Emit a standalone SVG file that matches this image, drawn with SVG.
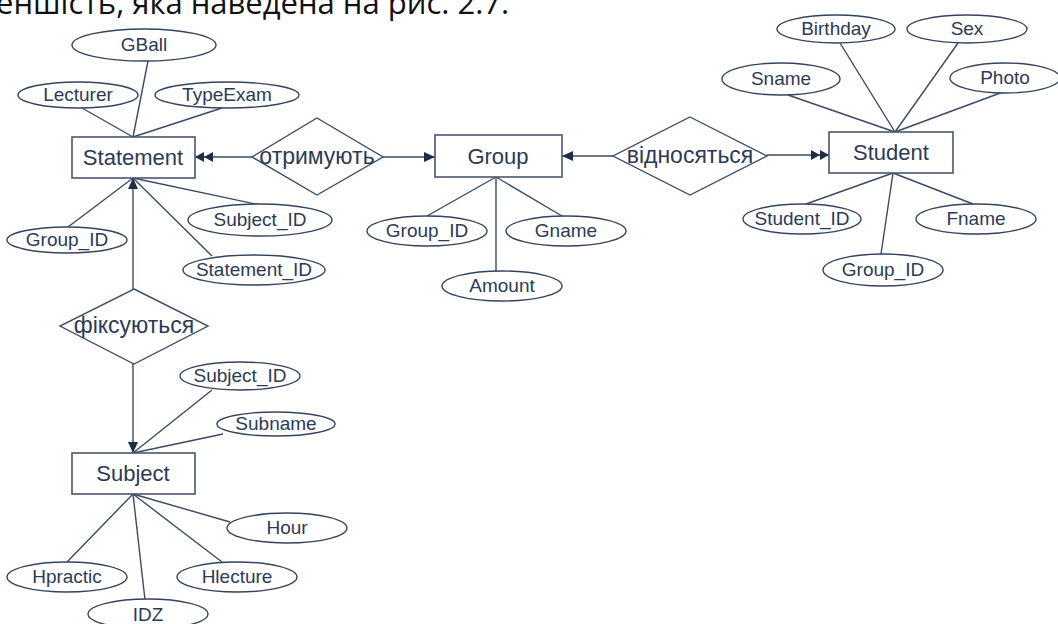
<svg xmlns="http://www.w3.org/2000/svg" width="1058" height="624" viewBox="0 0 1058 624">
  <style>
    .ent rect { fill: #ffffff; stroke: #4a5670; stroke-width: 1.6; }
    .attr ellipse { fill: #ffffff; stroke: #34435f; stroke-width: 1.4; }
    .rel polygon { fill: #ffffff; stroke: #3e4b66; stroke-width: 1.4; }
    text { font-family: "Liberation Sans", Arial, sans-serif; fill: #2c3a55; text-anchor: middle; }
    .ent text { font-size: 22px; }
    .attr text { font-size: 19px; }
    .rel text { font-size: 23px; }
    .conn line { stroke: #3b4965; stroke-width: 1.4; fill: none; }
    .caption { font-family: "Open Sans", "Noto Sans", sans-serif; font-size: 31px; fill: #111111; text-anchor: start; }
  </style>
  <defs>
    <marker id="one" markerUnits="userSpaceOnUse" viewBox="0 0 11 10" refX="11" refY="5" markerWidth="11" markerHeight="10" orient="auto">
      <path d="M0,0 L11,5 L0,10 Z" fill="#1f2c48"/>
    </marker>
    <marker id="two" markerUnits="userSpaceOnUse" viewBox="0 0 18 10" refX="18" refY="5" markerWidth="18" markerHeight="10" orient="auto">
      <path d="M0,0 L9,5 L0,10 Z M9,0 L18,5 L9,10 Z" fill="#1f2c48"/>
    </marker>
  </defs>

  <rect width="1058" height="624" fill="#ffffff"/>

  <!-- tail of the preceding paragraph -->
  <text class="caption" x="-4" y="14">еншість, яка наведена на рис. 2.7.</text>

  <!-- connectors -->
  <g id="connectors" class="conn">
    <!-- Statement attributes -->
    <line x1="148" y1="61" x2="133" y2="137"/>
    <line x1="82" y1="108" x2="133" y2="137"/>
    <line x1="222" y1="108" x2="133" y2="137"/>
    <line x1="68" y1="227" x2="133" y2="178"/>
    <line x1="260" y1="205" x2="133" y2="178"/>
    <line x1="212" y1="256" x2="133" y2="178"/>
    <!-- relationships -->
    <line x1="252" y1="157" x2="195" y2="157" marker-end="url(#two)"/>
    <line x1="383" y1="157" x2="435" y2="157" marker-end="url(#one)"/>
    <line x1="613" y1="156" x2="562" y2="156" marker-end="url(#one)"/>
    <line x1="767" y1="155" x2="829" y2="155" marker-end="url(#two)"/>
    <line x1="133" y1="289" x2="133" y2="178" marker-end="url(#one)"/>
    <line x1="133" y1="364" x2="133" y2="453" marker-end="url(#one)"/>
    <!-- Group attributes -->
    <line x1="496" y1="177" x2="427" y2="216"/>
    <line x1="496" y1="177" x2="562" y2="216"/>
    <line x1="496" y1="177" x2="496" y2="271"/>
    <!-- Student attributes -->
    <line x1="788" y1="95" x2="895" y2="132"/>
    <line x1="840" y1="43" x2="895" y2="132"/>
    <line x1="958" y1="43" x2="895" y2="132"/>
    <line x1="1003" y1="92" x2="895" y2="132"/>
    <line x1="893" y1="173" x2="806" y2="204"/>
    <line x1="893" y1="173" x2="973" y2="204"/>
    <line x1="893" y1="173" x2="881" y2="254"/>
    <!-- Subject attributes -->
    <line x1="212" y1="390" x2="133" y2="453"/>
    <line x1="223" y1="434" x2="133" y2="453"/>
    <line x1="133" y1="494" x2="230" y2="522"/>
    <line x1="133" y1="494" x2="67" y2="562"/>
    <line x1="133" y1="494" x2="222" y2="562"/>
    <line x1="133" y1="494" x2="145" y2="600"/>
  </g>

  <!-- entities -->
  <g id="statement" class="ent">
    <rect x="72" y="137" width="123" height="41"/>
    <text x="133" y="165">Statement</text>
  </g>
  <g id="group" class="ent">
    <rect x="435" y="135" width="127" height="42"/>
    <text x="498" y="164">Group</text>
  </g>
  <g id="student" class="ent">
    <rect x="829" y="132" width="124" height="41"/>
    <text x="891" y="160">Student</text>
  </g>
  <g id="subject" class="ent">
    <rect x="72" y="453" width="123" height="41"/>
    <text x="133" y="481">Subject</text>
  </g>

  <!-- relationships -->
  <g id="rel-otrymuiut" class="rel">
    <polygon points="317,118 383,157 317,195 252,157"/>
    <text x="317" y="164">отримують</text>
  </g>
  <g id="rel-vidnosiatsia" class="rel">
    <polygon points="690,117 767,156 690,195 613,156"/>
    <text x="690" y="163">відносяться</text>
  </g>
  <g id="rel-fiksuiutsia" class="rel">
    <polygon points="134,289 208,326 134,364 60,326"/>
    <text x="134" y="333">фіксуються</text>
  </g>

  <!-- Statement attributes -->
  <g id="st-gball" class="attr"><ellipse cx="144" cy="45" rx="72" ry="16"/><text x="144" y="51">GBall</text></g>
  <g id="st-lecturer" class="attr"><ellipse cx="78" cy="95" rx="60" ry="13"/><text x="78" y="101">Lecturer</text></g>
  <g id="st-typeexam" class="attr"><ellipse cx="227" cy="95" rx="72" ry="13"/><text x="227" y="101">TypeExam</text></g>
  <g id="st-group-id" class="attr"><ellipse cx="67" cy="240" rx="60" ry="13"/><text x="67" y="246">Group_ID</text></g>
  <g id="st-subject-id" class="attr"><ellipse cx="260" cy="220" rx="72" ry="16"/><text x="260" y="226">Subject_ID</text></g>
  <g id="st-statement-id" class="attr"><ellipse cx="254" cy="270" rx="71" ry="15"/><text x="254" y="276">Statement_ID</text></g>

  <!-- Group attributes -->
  <g id="gr-group-id" class="attr"><ellipse cx="427" cy="231" rx="60" ry="15"/><text x="427" y="237">Group_ID</text></g>
  <g id="gr-gname" class="attr"><ellipse cx="566" cy="231" rx="60" ry="15"/><text x="566" y="237">Gname</text></g>
  <g id="gr-amount" class="attr"><ellipse cx="502" cy="286" rx="60" ry="15"/><text x="502" y="292">Amount</text></g>

  <!-- Student attributes -->
  <g id="su-birthday" class="attr"><ellipse cx="836" cy="29" rx="59" ry="14"/><text x="836" y="35">Birthday</text></g>
  <g id="su-sex" class="attr"><ellipse cx="967" cy="29" rx="60" ry="14"/><text x="967" y="35">Sex</text></g>
  <g id="su-sname" class="attr"><ellipse cx="781" cy="79" rx="59" ry="16"/><text x="781" y="85">Sname</text></g>
  <g id="su-photo" class="attr"><ellipse cx="1005" cy="78" rx="55" ry="15"/><text x="1005" y="84">Photo</text></g>
  <g id="su-student-id" class="attr"><ellipse cx="802" cy="219" rx="59" ry="15"/><text x="802" y="225">Student_ID</text></g>
  <g id="su-fname" class="attr"><ellipse cx="976" cy="219" rx="60" ry="15"/><text x="976" y="225">Fname</text></g>
  <g id="su-group-id" class="attr"><ellipse cx="883" cy="270" rx="60" ry="16"/><text x="883" y="276">Group_ID</text></g>

  <!-- Subject attributes -->
  <g id="sb-subject-id" class="attr"><ellipse cx="240" cy="376" rx="60" ry="14"/><text x="240" y="382">Subject_ID</text></g>
  <g id="sb-subname" class="attr"><ellipse cx="276" cy="424" rx="59" ry="12"/><text x="276" y="430">Subname</text></g>
  <g id="sb-hour" class="attr"><ellipse cx="287" cy="528" rx="60" ry="15"/><text x="287" y="534">Hour</text></g>
  <g id="sb-hpractic" class="attr"><ellipse cx="67" cy="577" rx="60" ry="15"/><text x="67" y="583">Hpractic</text></g>
  <g id="sb-hlecture" class="attr"><ellipse cx="237" cy="577" rx="60" ry="15"/><text x="237" y="583">Hlecture</text></g>
  <g id="sb-idz" class="attr"><ellipse cx="148" cy="614" rx="60" ry="15"/><text x="148" y="621">IDZ</text></g>
</svg>
